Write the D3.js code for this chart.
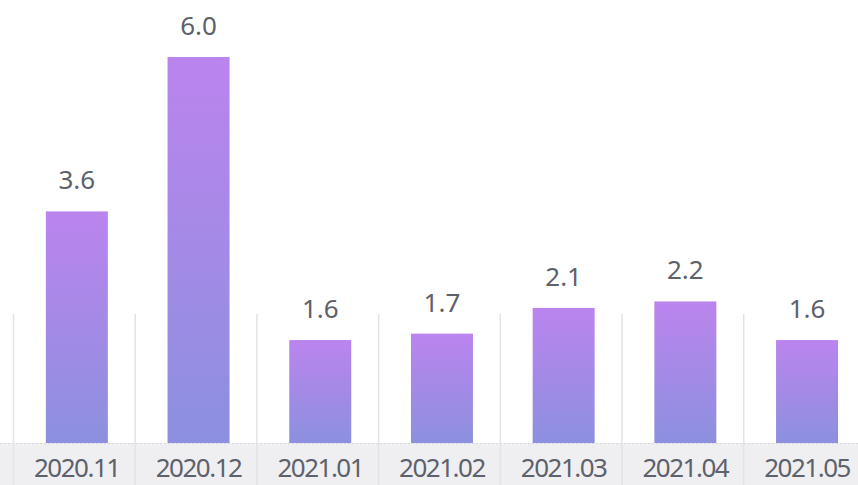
<!DOCTYPE html>
<html>
<head>
<meta charset="utf-8">
<script src="https://cdn.jsdelivr.net/npm/d3@7"></script>
<style>
  html, body { margin: 0; padding: 0; background: #fff; }
  svg { display: block; }
</style>
</head>
<body>
<svg id="chart" width="858" height="485"></svg>
<script>
// Monthly values
const months = ["2020.11", "2020.12", "2021.01", "2021.02", "2021.03", "2021.04", "2021.05"];
const values = [3.6, 6.0, 1.6, 1.7, 2.1, 2.2, 1.6];
const valueLabels = ["3.6", "6.0", "1.6", "1.7", "2.1", "2.2", "1.6"];

const W = 858, H = 485;
const baseY = 443;
const step = 121.7;
const svg = d3.select("#chart");

const x = d3.scaleBand()
  .domain(months)
  .range([16, 16 + step * months.length])
  .paddingInner(0)
  .paddingOuter(0);

const y = d3.scaleLinear().domain([0, 6]).range([baseY, 57]);

const barW = 62;
const cx = d => x(d) + x.bandwidth() / 2;

// Gradient per bar: violet at top fading to periwinkle at the base
const defs = svg.append("defs");
const grad = defs.append("linearGradient")
  .attr("id", "barGrad")
  .attr("x1", 0).attr("y1", 0).attr("x2", 0).attr("y2", 1);
grad.append("stop").attr("offset", "0%").attr("stop-color", "#bb84ee");
grad.append("stop").attr("offset", "100%").attr("stop-color", "#8c90de");

// Category axis band
svg.append("rect")
  .attr("x", 0).attr("y", baseY)
  .attr("width", W).attr("height", H - baseY)
  .attr("fill", "#efeff1");
svg.append("line")
  .attr("x1", 0).attr("x2", W)
  .attr("y1", baseY + 0.5).attr("y2", baseY + 0.5)
  .attr("stroke", "#d6d6dc")
  .attr("stroke-dasharray", "2,2");

// Separators between categories
svg.append("g").selectAll("line")
  .data(months)
  .join("line")
  .attr("x1", d => x(d) - 3 + 0.5)
  .attr("x2", d => x(d) - 3 + 0.5)
  .attr("y1", 314)
  .attr("y2", H)
  .attr("stroke", "#e2e2ea")
  .attr("stroke-width", 1.5);

// Bars
svg.append("g").selectAll("rect")
  .data(months)
  .join("rect")
  .attr("x", d => cx(d) - barW / 2)
  .attr("y", (d, i) => y(values[i]))
  .attr("width", barW)
  .attr("height", (d, i) => baseY - y(values[i]))
  .attr("fill", "url(#barGrad)");

// Value labels
svg.append("g").selectAll("text")
  .data(months)
  .join("text")
  .attr("x", d => cx(d))
  .attr("y", (d, i) => y(values[i]) - 22)
  .attr("text-anchor", "middle")
  .attr("font-family", "'Noto Sans', sans-serif")
  .attr("font-size", 26)
  .attr("fill", "#5d616b")
  .text((d, i) => valueLabels[i]);

// Category labels
svg.append("g").selectAll("text")
  .data(months)
  .join("text")
  .attr("x", d => cx(d))
  .attr("y", 477)
  .attr("text-anchor", "middle")
  .attr("font-family", "'Noto Sans', sans-serif")
  .attr("font-size", 26)
  .attr("letter-spacing", -1.5)
  .attr("fill", "#5d616b")
  .text(d => d);
</script>
</body>
</html>
